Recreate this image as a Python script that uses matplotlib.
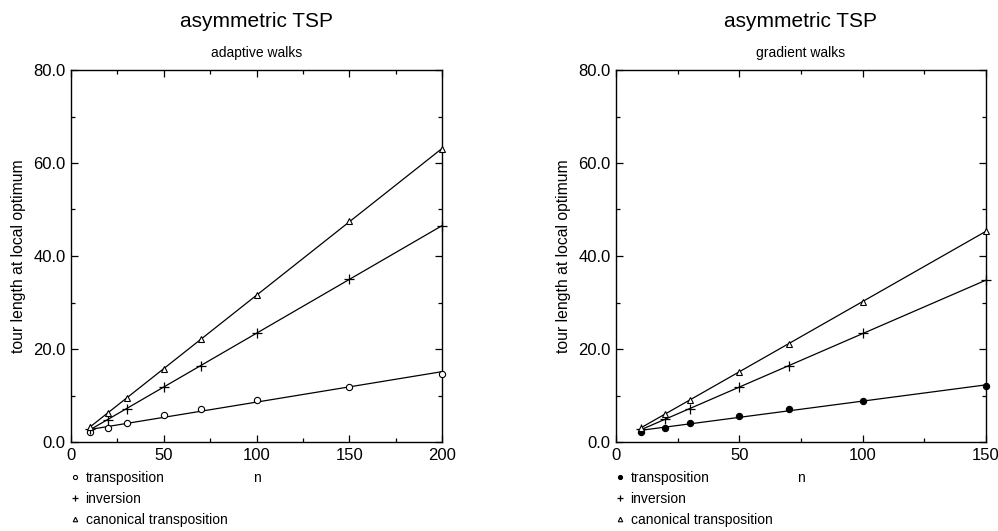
import numpy as np
import matplotlib
matplotlib.use("Agg")
import matplotlib.pyplot as plt
from matplotlib.ticker import MultipleLocator, FormatStrFormatter

plt.rcParams['font.family'] = ['Liberation Sans', 'DejaVu Sans']

# adaptive walks
n_adaptive = [10, 20, 30, 50, 70, 100, 150, 200]
adaptive_transposition = [2.1, 3.1, 4.0, 5.7, 7.0, 9.0, 11.9, 14.7]
adaptive_inversion = [2.8, 4.7, 7.1, 11.9, 16.4, 23.4, 35.0, 46.5]
adaptive_canonical = [3.3, 6.2, 9.4, 15.7, 22.1, 31.6, 47.5, 63.0]

# gradient walks
n_gradient = [10, 20, 30, 50, 70, 100, 150]
gradient_transposition = [2.1, 3.1, 4.0, 5.6, 7.0, 8.9, 12.0]
gradient_inversion = [2.8, 4.9, 7.0, 11.8, 16.4, 23.4, 34.8]
gradient_canonical = [3.0, 6.1, 9.1, 15.1, 21.1, 30.1, 45.4]

labels = ["transposition", "inversion", "canonical transposition"]


def fit_line(ax, x, y):
    # straight fit line through the points
    k, b = np.polyfit(x, y, 1)
    xs = np.array([min(x), max(x)])
    ax.plot(xs, k * xs + b, color='black', lw=0.9, zorder=2)


def panel(fig, rect, n, series, xmax, subtitle, circle_fill):
    ax = fig.add_axes(rect)
    markers = [
        dict(marker='o', ms=4.5, mfc=circle_fill, mec='black', mew=0.8),
        dict(marker='+', ms=7, mec='black', mew=0.9),
        dict(marker='^', ms=5, mfc='white', mec='black', mew=0.8),
    ]
    handles = []
    for y, m, lab in zip(series, markers, labels):
        fit_line(ax, n, y)
        h, = ax.plot(n, y, ls='none', label=lab, zorder=3, clip_on=False, **m)
        handles.append(h)

    ax.set_xlim(0, xmax)
    ax.set_ylim(0, 80)
    ax.xaxis.set_major_locator(MultipleLocator(50))
    ax.xaxis.set_minor_locator(MultipleLocator(25))
    ax.yaxis.set_major_locator(MultipleLocator(20))
    ax.yaxis.set_minor_locator(MultipleLocator(10))
    ax.yaxis.set_major_formatter(FormatStrFormatter('%.1f'))
    ax.tick_params(which='both', direction='in', top=True, right=True,
                   labelsize=12, width=0.9)
    ax.tick_params(which='major', length=5, pad=4)
    ax.tick_params(which='minor', length=3)
    for s in ax.spines.values():
        s.set_linewidth(1.0)

    ax.set_ylabel("tour length at local optimum", fontsize=11.3, labelpad=5)
    ax.set_xlabel("n", fontsize=10, labelpad=6)
    ax.set_title(subtitle, fontsize=10, pad=9)
    ax.text(0.5, 1.105, "asymmetric TSP", transform=ax.transAxes,
            ha='center', va='bottom', fontsize=15)

    ax.legend(handles=handles, loc='upper left',
              bbox_to_anchor=(0.0, -0.078), frameon=False,
              fontsize=10, handlelength=0.6, handletextpad=0.45,
              labelspacing=0.5, borderaxespad=0, borderpad=0,
              markerscale=0.65)
    return ax


fig = plt.figure(figsize=(9.98, 5.31), dpi=100)
W, H = 998, 531
panel(fig, [71 / W, (H - 442) / H, 371 / W, 372 / H], n_adaptive,
      [adaptive_transposition, adaptive_inversion, adaptive_canonical],
      200, "adaptive walks", 'white')
panel(fig, [616 / W, (H - 442) / H, 370 / W, 372 / H], n_gradient,
      [gradient_transposition, gradient_inversion, gradient_canonical],
      150, "gradient walks", 'black')

fig.savefig("out.png", dpi=100)
